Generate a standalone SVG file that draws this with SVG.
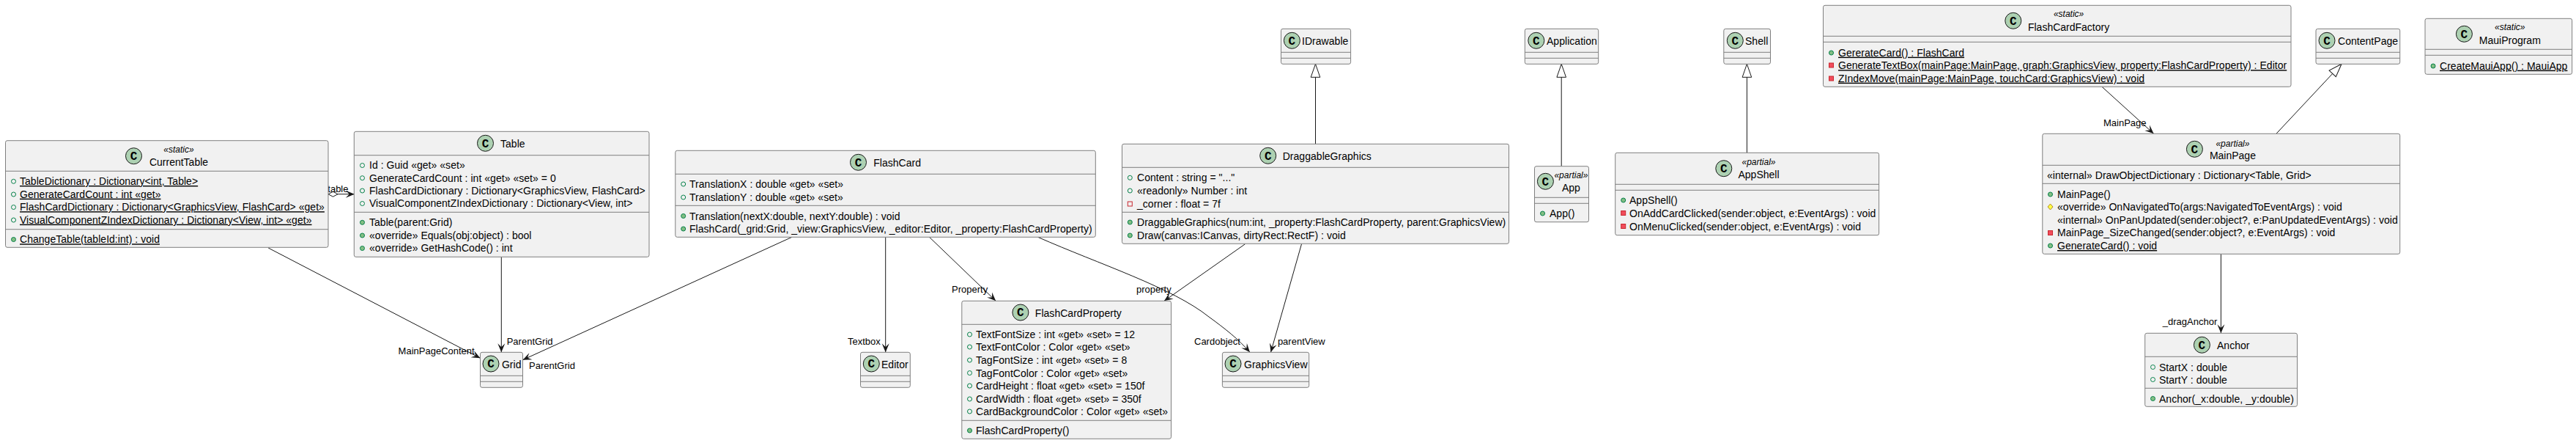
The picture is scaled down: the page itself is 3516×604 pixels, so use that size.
<svg xmlns="http://www.w3.org/2000/svg" width="3516" height="604" viewBox="0 0 3516 604">
<style>
text{font-family:"Liberation Sans",Arial,sans-serif;fill:#000}
.b{fill:#F1F1F1;stroke:#7f7f7f;stroke-width:1}
.d{stroke:#7f7f7f;stroke-width:1}
.c{fill:#ADD1B2;stroke:#181818;stroke-width:1}
.k{font-size:16px;font-weight:bold;text-anchor:middle;font-family:"Liberation Mono",monospace}
.n{font-size:14px;letter-spacing:.035px}
.st{font-size:12px;font-style:italic;text-anchor:middle}
.sn{font-size:14px;text-anchor:middle}
.m{font-size:14px;letter-spacing:.035px}
.u{text-decoration:underline}
.l{font-size:13px}
.e{fill:none;stroke:#181818;stroke-width:1}
.a{marker-end:url(#open)}
.x{marker-end:url(#tri)}
</style>
<defs>
<marker id="open" markerUnits="userSpaceOnUse" orient="auto" markerWidth="14" markerHeight="12" refX="13" refY="6" viewBox="0 0 14 12"><path d="M13,6 L1,1 L6,6 L1,11 Z" fill="#181818"/></marker>
<marker id="tri" markerUnits="userSpaceOnUse" orient="auto" markerWidth="20" markerHeight="16" refX="19" refY="8" viewBox="0 0 20 16"><path d="M19,8 L1,1.7 L1,14.3 Z" fill="#fff" stroke="#181818"/></marker>
<marker id="dia" markerUnits="userSpaceOnUse" orient="auto" markerWidth="15" markerHeight="10" refX="1" refY="5" viewBox="0 0 15 10"><path d="M1,5 L7.5,1.5 L14,5 L7.5,8.5 Z" fill="#fff" stroke="#181818"/></marker>
<circle id="pf" r="3" fill="none" stroke="#038048"/>
<circle id="pm" r="3" fill="#84BE84" stroke="#038048"/>
<rect id="rf" x="-3" y="-3" width="6" height="6" fill="none" stroke="#C82930"/>
<rect id="rm" x="-3" y="-3" width="6" height="6" fill="#F24D5C" stroke="#C82930"/>
<path id="ym" d="M0,-4 L3.5,0 L0,4 L-3.5,0 Z" fill="#FFFF44" stroke="#B38D22"/>
</defs>

<g id="connectors">
<path class="e a" d="M366.2,338 L655.5,488.3"/>
<path class="e a" d="M684.3,350.3 L684.3,480.3"/>
<path class="e a" d="M1080.8,323.3 L713.5,490.7"/>
<path class="e a" d="M1208.7,323.3 L1208.7,480.3"/>
<path class="e a" d="M1268.5,323.3 L1359.2,410.3"/>
<path class="e a" d="M1416.7,323.3 C1500,360 1600,392 1650,432 C1672,448 1690,462 1706,480.3"/>
<path class="e a" d="M1699.5,332.7 L1589,410.3"/>
<path class="e a" d="M1776.5,332.7 L1734.5,480.3"/>
<path class="e a" d="M2869,118.3 L2939.6,182.3"/>
<path class="e a" d="M3031.4,346.3 L3031.4,454.3"/>
<path class="e x" d="M3106.9,182.3 L3196,87.3"/>
<path class="e x" d="M1795.5,196.3 L1795.5,87.3"/>
<path class="e x" d="M2131.2,226.7 L2131.2,87.3"/>
<path class="e x" d="M2384.4,208.3 L2384.4,87.3"/>
<path class="e a" d="M448,264.7 L483.8,264.7" marker-start="url(#dia)"/>
<text class="l" x="447.3" y="262">table</text>
<text class="l" x="691.7" y="470">ParentGrid</text>
<text class="l" x="543.6" y="483.3">MainPageContent</text>
<text class="l" x="722" y="502.7">ParentGrid</text>
<text class="l" x="1157" y="470">Textbox</text>
<text class="l" x="1299" y="399">Property</text>
<text class="l" x="1551" y="399">property</text>
<text class="l" x="1630" y="470">Cardobject</text>
<text class="l" x="1743.9" y="470">parentView</text>
<text class="l" x="2871" y="171.7">MainPage</text>
<text class="l" x="2951.8" y="442.7">_dragAnchor</text>
</g>

<g id="CurrentTable">
<rect class="b" x="7.5" y="191.7" width="440.5" height="145.6" rx="2.5"/>
<line class="d" x1="7.5" x2="448" y1="233.3" y2="233.3"/><line class="d" x1="7.5" x2="448" y1="312.7" y2="312.7"/>
<circle class="c" cx="182.5" cy="212.7" r="11"/><text class="k" x="182.5" y="218">C</text>
<text class="st" x="244" y="207.7">«static»</text><text class="sn" x="244" y="225.7">CurrentTable</text>
<use href="#pf" x="18.5" y="247.3"/><text class="m u" x="27" y="252">TableDictionary : Dictionary&lt;int, Table&gt;</text>
<use href="#pf" x="18.5" y="265"/><text class="m u" x="27" y="269.7">GenerateCardCount : int «get»</text>
<use href="#pf" x="18.5" y="282.5"/><text class="m u" x="27" y="287.2">FlashCardDictionary : Dictionary&lt;GraphicsView, FlashCard&gt; «get»</text>
<use href="#pf" x="18.5" y="300"/><text class="m u" x="27" y="304.7">VisualComponentZIndexDictionary : Dictionary&lt;View, int&gt; «get»</text>
<use href="#pm" x="18.5" y="326.5"/><text class="m u" x="27" y="331.3">ChangeTable(tableId:int) : void</text>
</g>

<g id="Table">
<rect class="b" x="483.3" y="179.3" width="402.7" height="171" rx="2.5"/>
<line class="d" x1="483.3" x2="886" y1="211.7" y2="211.7"/><line class="d" x1="483.3" x2="886" y1="289.3" y2="289.3"/>
<circle class="c" cx="662.5" cy="195.3" r="11"/><text class="k" x="662.5" y="200.6">C</text>
<text class="n" x="683" y="200.7">Table</text>
<use href="#pf" x="494.5" y="225.5"/><text class="m" x="504" y="230.2">Id : Guid «get» «set»</text>
<use href="#pf" x="494.5" y="242.7"/><text class="m" x="504" y="247.5">GenerateCardCount : int «get» «set» = 0</text>
<use href="#pf" x="494.5" y="260"/><text class="m" x="504" y="265">FlashCardDictionary : Dictionary&lt;GraphicsView, FlashCard&gt;</text>
<use href="#pf" x="494.5" y="277.5"/><text class="m" x="504" y="282.3">VisualComponentZIndexDictionary : Dictionary&lt;View, int&gt;</text>
<use href="#pm" x="494.5" y="303.3"/><text class="m" x="504" y="308.3">Table(parent:Grid)</text>
<use href="#pm" x="494.5" y="321"/><text class="m" x="504" y="326">«override» Equals(obj:object) : bool</text>
<use href="#pm" x="494.5" y="338.5"/><text class="m" x="504" y="343.3">«override» GetHashCode() : int</text>
</g>

<g id="Grid">
<rect class="b" x="655.5" y="480.3" width="58" height="48" rx="2.5"/>
<line class="d" x1="655.5" x2="713.5" y1="512.3" y2="512.3"/><line class="d" x1="655.5" x2="713.5" y1="520.3" y2="520.3"/>
<circle class="c" cx="670" cy="496" r="11"/><text class="k" x="670" y="501.3">C</text>
<text class="n" x="684.9" y="502">Grid</text>
</g>

<g id="FlashCard">
<rect class="b" x="921.8" y="205.3" width="573.5" height="118" rx="2.5"/>
<line class="d" x1="921.8" x2="1495.3" y1="237.3" y2="237.3"/><line class="d" x1="921.8" x2="1495.3" y1="280.3" y2="280.3"/>
<circle class="c" cx="1171.5" cy="221.3" r="11"/><text class="k" x="1171.5" y="226.6">C</text>
<text class="n" x="1192.2" y="227">FlashCard</text>
<use href="#pf" x="932.7" y="251"/><text class="m" x="941" y="256">TranslationX : double «get» «set»</text>
<use href="#pf" x="932.7" y="269"/><text class="m" x="941" y="274">TranslationY : double «get» «set»</text>
<use href="#pm" x="932.7" y="294.5"/><text class="m" x="941" y="299.5">Translation(nextX:double, nextY:double) : void</text>
<use href="#pm" x="932.7" y="312"/><text class="m" x="941" y="317">FlashCard(_grid:Grid, _view:GraphicsView, _editor:Editor, _property:FlashCardProperty)</text>
</g>

<g id="Editor">
<rect class="b" x="1174.5" y="480.3" width="67.8" height="48" rx="2.5"/>
<line class="d" x1="1174.5" x2="1242.3" y1="512.3" y2="512.3"/><line class="d" x1="1174.5" x2="1242.3" y1="520.3" y2="520.3"/>
<circle class="c" cx="1189.3" cy="496" r="11"/><text class="k" x="1189.3" y="501.3">C</text>
<text class="n" x="1203" y="502">Editor</text>
</g>

<g id="FlashCardProperty">
<rect class="b" x="1312.8" y="410.3" width="285.7" height="188" rx="2.5"/>
<line class="d" x1="1312.8" x2="1598.5" y1="442.3" y2="442.3"/><line class="d" x1="1312.8" x2="1598.5" y1="573.3" y2="573.3"/>
<circle class="c" cx="1392.9" cy="426" r="11"/><text class="k" x="1392.9" y="431.3">C</text>
<text class="n" x="1412.8" y="431.7">FlashCardProperty</text>
<use href="#pf" x="1323.5" y="456"/><text class="m" x="1332" y="461">TextFontSize : int «get» «set» = 12</text>
<use href="#pf" x="1323.5" y="473"/><text class="m" x="1332" y="478">TextFontColor : Color «get» «set»</text>
<use href="#pf" x="1323.5" y="491"/><text class="m" x="1332" y="496">TagFontSize : int «get» «set» = 8</text>
<use href="#pf" x="1323.5" y="508.5"/><text class="m" x="1332" y="513.5">TagFontColor : Color «get» «set»</text>
<use href="#pf" x="1323.5" y="526"/><text class="m" x="1332" y="531">CardHeight : float «get» «set» = 150f</text>
<use href="#pf" x="1323.5" y="544"/><text class="m" x="1332" y="549">CardWidth : float «get» «set» = 350f</text>
<use href="#pf" x="1323.5" y="561"/><text class="m" x="1332" y="566">CardBackgroundColor : Color «get» «set»</text>
<use href="#pm" x="1323.5" y="587"/><text class="m" x="1332" y="592">FlashCardProperty()</text>
</g>

<g id="GraphicsView">
<rect class="b" x="1668.4" y="480.3" width="118.3" height="48" rx="2.5"/>
<line class="d" x1="1668.4" x2="1786.7" y1="512.3" y2="512.3"/><line class="d" x1="1668.4" x2="1786.7" y1="520.3" y2="520.3"/>
<circle class="c" cx="1683" cy="496" r="11"/><text class="k" x="1683" y="501.3">C</text>
<text class="n" x="1698" y="502">GraphicsView</text>
</g>

<g id="DraggableGraphics">
<rect class="b" x="1531.5" y="196.3" width="528" height="136" rx="2.5"/>
<line class="d" x1="1531.5" x2="2059.5" y1="228.3" y2="228.3"/><line class="d" x1="1531.5" x2="2059.5" y1="289.3" y2="289.3"/>
<circle class="c" cx="1730.7" cy="212.3" r="11"/><text class="k" x="1730.7" y="217.6">C</text>
<text class="n" x="1750.7" y="218">DraggableGraphics</text>
<use href="#pf" x="1542.3" y="242.3"/><text class="m" x="1552" y="247.3">Content : string = "..."</text>
<use href="#pf" x="1542.3" y="260"/><text class="m" x="1552" y="265">«readonly» Number : int</text>
<use href="#rf" x="1542.3" y="278"/><text class="m" x="1552" y="282.5">_corner : float = 7f</text>
<use href="#pm" x="1542.3" y="303"/><text class="m" x="1552" y="308">DraggableGraphics(num:int, _property:FlashCardProperty, parent:GraphicsView)</text>
<use href="#pm" x="1542.3" y="321"/><text class="m" x="1552" y="325.7">Draw(canvas:ICanvas, dirtyRect:RectF) : void</text>
</g>

<g id="IDrawable">
<rect class="b" x="1748.5" y="39.3" width="95.1" height="48" rx="2.5"/>
<line class="d" x1="1748.5" x2="1843.6" y1="71.3" y2="71.3"/><line class="d" x1="1748.5" x2="1843.6" y1="79.3" y2="79.3"/>
<circle class="c" cx="1763.4" cy="55.3" r="11"/><text class="k" x="1763.4" y="60.6">C</text>
<text class="n" x="1777" y="61">IDrawable</text>
</g>

<g id="Application">
<rect class="b" x="2081.3" y="39.3" width="100.4" height="48" rx="2.5"/>
<line class="d" x1="2081.3" x2="2181.7" y1="71.3" y2="71.3"/><line class="d" x1="2081.3" x2="2181.7" y1="79.3" y2="79.3"/>
<circle class="c" cx="2096.8" cy="55.3" r="11"/><text class="k" x="2096.8" y="60.6">C</text>
<text class="n" x="2111" y="61">Application</text>
</g>

<g id="App">
<rect class="b" x="2094.5" y="226.7" width="74" height="76" rx="2.5"/>
<line class="d" x1="2094.5" x2="2168.5" y1="269.3" y2="269.3"/><line class="d" x1="2094.5" x2="2168.5" y1="277.3" y2="277.3"/>
<circle class="c" cx="2109.4" cy="247.3" r="11"/><text class="k" x="2109.4" y="252.6">C</text>
<text class="st" x="2144.4" y="243.3">«partial»</text><text class="sn" x="2144.4" y="261">App</text>
<use href="#pm" x="2105.5" y="291"/><text class="m" x="2115" y="296">App()</text>
</g>

<g id="Shell">
<rect class="b" x="2352.8" y="39.3" width="63.7" height="48" rx="2.5"/>
<line class="d" x1="2352.8" x2="2416.5" y1="71.3" y2="71.3"/><line class="d" x1="2352.8" x2="2416.5" y1="79.3" y2="79.3"/>
<circle class="c" cx="2368.3" cy="55.3" r="11"/><text class="k" x="2368.3" y="60.6">C</text>
<text class="n" x="2382" y="61">Shell</text>
</g>

<g id="AppShell">
<rect class="b" x="2204.7" y="208.3" width="359.9" height="112.4" rx="2.5"/>
<line class="d" x1="2204.7" x2="2564.6" y1="251.3" y2="251.3"/><line class="d" x1="2204.7" x2="2564.6" y1="259.3" y2="259.3"/>
<circle class="c" cx="2352.8" cy="229.7" r="11"/><text class="k" x="2352.8" y="235">C</text>
<text class="st" x="2400.5" y="225.3">«partial»</text><text class="sn" x="2400.5" y="242.7">AppShell</text>
<use href="#pm" x="2215.7" y="273"/><text class="m" x="2224" y="278">AppShell()</text>
<use href="#rm" x="2215.7" y="290.5"/><text class="m" x="2224" y="295.5">OnAddCardClicked(sender:object, e:EventArgs) : void</text>
<use href="#rm" x="2215.7" y="308.5"/><text class="m" x="2224" y="313.5">OnMenuClicked(sender:object, e:EventArgs) : void</text>
</g>

<g id="FlashCardFactory">
<rect class="b" x="2488.5" y="7.3" width="638.5" height="111" rx="2.5"/>
<line class="d" x1="2488.5" x2="3127" y1="49.3" y2="49.3"/><line class="d" x1="2488.5" x2="3127" y1="57.3" y2="57.3"/>
<circle class="c" cx="2747.8" cy="28.3" r="11"/><text class="k" x="2747.8" y="33.6">C</text>
<text class="st" x="2823.6" y="23.3">«static»</text><text class="sn" x="2823.6" y="41.7">FlashCardFactory</text>
<use href="#pm" x="2499.5" y="72"/><text class="m u" x="2509" y="76.7">GererateCard() : FlashCard</text>
<use href="#rm" x="2499.5" y="89"/><text class="m u" x="2509" y="94.2">GenerateTextBox(mainPage:MainPage, graph:GraphicsView, property:FlashCardProperty) : Editor</text>
<use href="#rm" x="2499.5" y="107"/><text class="m u" x="2509" y="111.7">ZIndexMove(mainPage:MainPage, touchCard:GraphicsView) : void</text>
</g>

<g id="ContentPage">
<rect class="b" x="3161" y="39.3" width="114.7" height="48" rx="2.5"/>
<line class="d" x1="3161" x2="3275.7" y1="71.3" y2="71.3"/><line class="d" x1="3161" x2="3275.7" y1="79.3" y2="79.3"/>
<circle class="c" cx="3176" cy="55.3" r="11"/><text class="k" x="3176" y="60.6">C</text>
<text class="n" x="3191" y="61">ContentPage</text>
</g>

<g id="MauiProgram">
<rect class="b" x="3310" y="25.3" width="200.6" height="76" rx="2.5"/>
<line class="d" x1="3310" x2="3510.6" y1="67.3" y2="67.3"/><line class="d" x1="3310" x2="3510.6" y1="75.3" y2="75.3"/>
<circle class="c" cx="3363.4" cy="46.3" r="11"/><text class="k" x="3363.4" y="51.6">C</text>
<text class="st" x="3425.8" y="41.3">«static»</text><text class="sn" x="3425.8" y="59.7">MauiProgram</text>
<use href="#pm" x="3321" y="90"/><text class="m u" x="3330" y="94.7">CreateMauiApp() : MauiApp</text>
</g>

<g id="MainPage">
<rect class="b" x="2787.8" y="182.3" width="487.9" height="164" rx="2.5"/>
<line class="d" x1="2787.8" x2="3275.7" y1="225.3" y2="225.3"/><line class="d" x1="2787.8" x2="3275.7" y1="250.3" y2="250.3"/>
<circle class="c" cx="2995.4" cy="203.3" r="11"/><text class="k" x="2995.4" y="208.6">C</text>
<text class="st" x="3047.4" y="199.7">«partial»</text><text class="sn" x="3047.4" y="216.7">MainPage</text>
<text class="m" x="2794" y="244">«internal» DrawObjectDictionary : Dictionary&lt;Table, Grid&gt;</text>
<use href="#pm" x="2798.5" y="265"/><text class="m" x="2808" y="269.5">MainPage()</text>
<use href="#ym" x="2798.5" y="282"/><text class="m" x="2808" y="287">«override» OnNavigatedTo(args:NavigatedToEventArgs) : void</text>
<text class="m" x="2808" y="305">«internal» OnPanUpdated(sender:object?, e:PanUpdatedEventArgs) : void</text>
<use href="#rm" x="2798.5" y="317.5"/><text class="m" x="2808" y="322.3">MainPage_SizeChanged(sender:object?, e:EventArgs) : void</text>
<use href="#pm" x="2798.5" y="335"/><text class="m u" x="2808" y="340">GenerateCard() : void</text>
</g>

<g id="Anchor">
<rect class="b" x="2927.7" y="454.3" width="207.8" height="100" rx="2.5"/>
<line class="d" x1="2927.7" x2="3135.5" y1="486.3" y2="486.3"/><line class="d" x1="2927.7" x2="3135.5" y1="529.3" y2="529.3"/>
<circle class="c" cx="3005.4" cy="470.3" r="11"/><text class="k" x="3005.4" y="475.6">C</text>
<text class="n" x="3026" y="476">Anchor</text>
<use href="#pf" x="2938.5" y="500.5"/><text class="m" x="2947" y="505.5">StartX : double</text>
<use href="#pf" x="2938.5" y="517.5"/><text class="m" x="2947" y="522.5">StartY : double</text>
<use href="#pm" x="2938.5" y="543.5"/><text class="m" x="2947" y="548.5">Anchor(_x:double, _y:double)</text>
</g>
</svg>
